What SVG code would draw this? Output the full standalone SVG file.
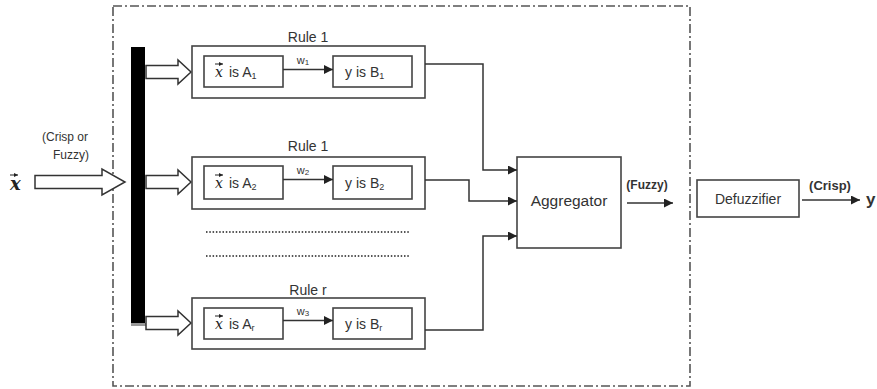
<svg xmlns="http://www.w3.org/2000/svg" width="877" height="389" viewBox="0 0 877 389">
  <style>
    .box { fill: #fff; stroke: #444; stroke-width: 1.6; }
    .hollow { fill: #fff; stroke: #333; stroke-width: 1.5; stroke-linejoin: miter; }
    .wire { fill: none; stroke: #333; stroke-width: 1.5; }
    .lbl { font-family: "Liberation Sans", Arial, sans-serif; fill: #333; }
    .vx { font-family: "DejaVu Serif", "Liberation Serif", serif; font-style: italic; fill: #222; }
    .dots { stroke: #555; stroke-width: 2; stroke-dasharray: 1.5 1.8; }
  </style>
  <defs>
    <marker id="ah" viewBox="0 0 10 10" refX="10" refY="5" markerWidth="9" markerHeight="9" markerUnits="userSpaceOnUse" orient="auto">
      <path d="M0,0 L10,5 L0,10 z" fill="#222"/>
    </marker>
    <marker id="ahs" viewBox="0 0 10 10" refX="10" refY="5" markerWidth="4" markerHeight="4" markerUnits="userSpaceOnUse" orient="auto">
      <path d="M0,0 L10,5 L0,10 z" fill="#222"/>
    </marker>
    <!-- small vector accent over x -->
    <g id="vec">
      <line x1="0" y1="0" x2="8" y2="0" stroke="#222" stroke-width="1" marker-end="url(#ahs)"/>
    </g>
  </defs>

  <rect width="877" height="389" fill="#fff"/>

  <!-- outer dash-dot frame -->
  <rect x="113" y="6" width="577" height="380" fill="none" stroke="#555" stroke-width="1.6" stroke-dasharray="9 3 2 3"/>

  <!-- input -->
  <g id="input">
    <text class="vx" x="10" y="190" font-size="18" font-weight="bold">x</text>
    <use href="#vec" x="10" y="175"/>
    <text class="lbl" x="65" y="141" font-size="12" text-anchor="middle">(Crisp or</text>
    <text class="lbl" x="71" y="159" font-size="12" text-anchor="middle">Fuzzy)</text>
    <path class="hollow" d="M35,175.5 H102 V169 L125,182 L102,195 V188.5 H35 Z"/>
  </g>

  <!-- distribution bar -->
  <g id="bar">
    <rect x="131" y="47" width="14" height="278" fill="#000"/>
    <rect x="131" y="323" width="15" height="3" fill="#999"/>
  </g>

  <!-- hollow arrows from bar to rules -->
  <g id="fanout">
    <path class="hollow" d="M146,65.5 H178 V60 L191,72 L178,84 V78.5 H146 Z"/>
    <path class="hollow" d="M146,175.5 H178 V170 L191,182 L178,194 V188.5 H146 Z"/>
    <path class="hollow" d="M146,316.5 H178 V311 L191,323 L178,335 V329.5 H146 Z"/>
  </g>

  <!-- rule 1 -->
  <g id="rule1">
    <text class="lbl" x="308" y="42" font-size="14" text-anchor="middle">Rule 1</text>
    <rect class="box" x="192" y="46" width="233" height="52"/>
    <rect class="box" x="204" y="56" width="79" height="31"/>
    <rect class="box" x="333" y="56" width="79" height="31"/>
    <text class="vx" x="215" y="77" font-size="14">x</text>
    <use href="#vec" x="215" y="64"/>
    <text class="lbl" x="229" y="77" font-size="14">is A<tspan font-size="9" dy="2">1</tspan></text>
    <text class="lbl" x="345" y="77" font-size="14">y is B<tspan font-size="9" dy="2">1</tspan></text>
    <line class="wire" x1="283" y1="69.5" x2="333" y2="69.5" marker-end="url(#ah)"/>
    <text class="lbl" x="303" y="64" font-size="11" text-anchor="middle">w<tspan font-size="8" dy="1">1</tspan></text>
  </g>

  <!-- rule 2 -->
  <g id="rule2">
    <text class="lbl" x="308" y="151" font-size="14" text-anchor="middle">Rule 1</text>
    <rect class="box" x="192" y="157" width="233" height="52"/>
    <rect class="box" x="204" y="166" width="79" height="33"/>
    <rect class="box" x="333" y="166" width="79" height="33"/>
    <text class="vx" x="215" y="188" font-size="14">x</text>
    <use href="#vec" x="215" y="175"/>
    <text class="lbl" x="229" y="188" font-size="14">is A<tspan font-size="9" dy="2">2</tspan></text>
    <text class="lbl" x="345" y="188" font-size="14">y is B<tspan font-size="9" dy="2">2</tspan></text>
    <line class="wire" x1="283" y1="179.5" x2="333" y2="179.5" marker-end="url(#ah)"/>
    <text class="lbl" x="303" y="174" font-size="11" text-anchor="middle">w<tspan font-size="8" dy="1">2</tspan></text>
  </g>

  <!-- ellipsis rows -->
  <g id="ellipsis">
    <line class="dots" x1="206" y1="232" x2="410" y2="232"/>
    <line class="dots" x1="206" y1="256" x2="410" y2="256"/>
  </g>

  <!-- rule r -->
  <g id="ruler">
    <text class="lbl" x="308" y="295" font-size="14" text-anchor="middle">Rule r</text>
    <rect class="box" x="192" y="298" width="233" height="51"/>
    <rect class="box" x="204" y="308" width="79" height="31"/>
    <rect class="box" x="333" y="308" width="79" height="31"/>
    <text class="vx" x="215" y="329" font-size="14">x</text>
    <use href="#vec" x="215" y="316"/>
    <text class="lbl" x="229" y="329" font-size="14">is A<tspan font-size="9" dy="2">r</tspan></text>
    <text class="lbl" x="345" y="329" font-size="14">y is B<tspan font-size="9" dy="2">r</tspan></text>
    <line class="wire" x1="283" y1="320.5" x2="333" y2="320.5" marker-end="url(#ah)"/>
    <text class="lbl" x="303" y="315" font-size="11" text-anchor="middle">w<tspan font-size="8" dy="1">3</tspan></text>
  </g>

  <!-- aggregator -->
  <g id="aggregator">
    <rect class="box" x="517" y="157" width="104" height="91"/>
    <text class="lbl" x="569" y="206" font-size="15.5" text-anchor="middle">Aggregator</text>
  </g>

  <!-- defuzzifier -->
  <g id="defuzzifier">
    <rect class="box" x="697" y="180" width="102" height="37"/>
    <text class="lbl" x="748" y="204" font-size="14" text-anchor="middle">Defuzzifier</text>
  </g>

  <!-- output -->
  <g id="output">
    <text class="lbl" x="830" y="190" font-size="13" font-weight="bold" text-anchor="middle">(Crisp)</text>
    <text class="lbl" x="866" y="205" font-size="17" font-weight="bold" fill="#222">y</text>
  </g>

  <!-- connectors -->
  <g id="connectors">
    <polyline class="wire" points="425,64 483,64 483,170 517,170" marker-end="url(#ah)"/>
    <polyline class="wire" points="425,180 469,180 469,201 517,201" marker-end="url(#ah)"/>
    <polyline class="wire" points="425,330 483,330 483,236 517,236" marker-end="url(#ah)"/>
    <line class="wire" x1="627" y1="203" x2="673" y2="203" marker-end="url(#ah)"/>
    <text class="lbl" x="647" y="189" font-size="12" font-weight="bold" text-anchor="middle">(Fuzzy)</text>
    <line class="wire" x1="802" y1="200" x2="860" y2="200" marker-end="url(#ah)"/>
  </g>
</svg>
